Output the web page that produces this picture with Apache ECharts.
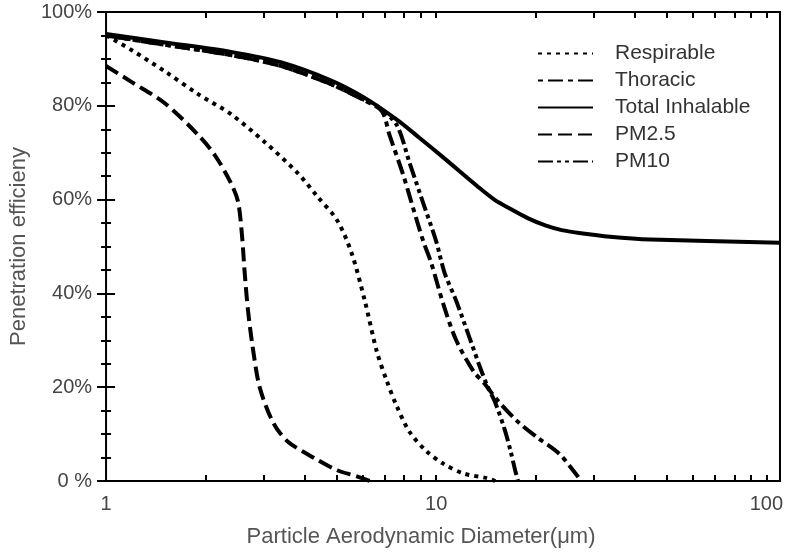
<!DOCTYPE html>
<html>
<head>
<meta charset="utf-8">
<script src="https://cdn.jsdelivr.net/npm/echarts@6/dist/echarts.min.js"></script>
<style>
  html, body { margin: 0; padding: 0; background: #fff; }
  #chart { width: 786px; height: 554px; }
</style>
</head>
<body>
<div id="chart"></div>
<script>
// values (diameter in µm, penetration in %)
const respirableX = [1, 1.2, 1.51, 1.9, 2.39, 3.02, 3.8, 4.36, 5.01, 5.55, 6.08, 6.61, 7.08, 7.58, 8.3, 9.33, 10.5, 12.1, 14.3, 15.1];
const respirableY = [95.0, 91.8, 87.3, 82.5, 78.2, 72.3, 65.7, 60.7, 55.6, 48.5, 38.4, 27.6, 21.4, 16.1, 10.5, 6.4, 3.7, 1.6, 0.6, 0];

const thoracicX = [1, 1.51, 2.39, 3.38, 4.77, 6.04, 6.84, 7.22, 7.96, 8.53, 9.14, 9.66, 10.5, 11.5, 13.0, 14.0, 15.3, 17.7, 20.4, 23.6, 27.5];
const thoracicY = [95.0, 93.0, 90.8, 88.5, 84.7, 81.2, 78.9, 73.8, 65.1, 58.0, 51.1, 46.5, 37.8, 30.0, 23.3, 20.8, 17.3, 12.6, 9.1, 5.8, 0];

const totalX = [1, 1.51, 2.39, 3.38, 4.77, 6.04, 7.58, 8.89, 10.5, 13.3, 15.0, 16.8, 19.0, 21.4, 24.0, 27.1, 33.6, 44.7, 110];
const totalY = [95.3, 93.5, 91.5, 89.3, 85.5, 81.8, 77.1, 73.2, 69.0, 62.9, 60.0, 58.0, 56.0, 54.5, 53.5, 52.9, 52.1, 51.5, 50.8];

const pm25X = [1, 1.2, 1.51, 1.9, 2.14, 2.39, 2.51, 2.58, 2.63, 2.69, 2.78, 2.92, 3.2, 3.54, 4.27, 5.01, 5.75, 6.29];
const pm25Y = [88.5, 85.0, 80.5, 73.8, 69.4, 63.5, 59.6, 52.5, 44.4, 36.5, 28.6, 20.0, 12.6, 8.5, 4.9, 2.3, 1.0, 0];

const pm10X = [1, 1.51, 2.39, 3.38, 4.77, 6.04, 6.61, 7.58, 8.3, 9.14, 10.0, 10.6, 11.5, 12.7, 13.6, 14.3, 15.1, 16.1, 16.8, 17.4, 17.7];
const pm10Y = [95.0, 93.0, 90.8, 88.5, 84.7, 81.3, 80.0, 76.0, 67.9, 59.2, 51.1, 44.4, 38.4, 30.0, 24.1, 20.2, 16.7, 11.1, 6.4, 1.9, 0];

// x tick marks (log positions 2..9, 10, 20..90, 100)
const xTickValues = [2, 3, 4, 5, 6, 7, 8, 9, 10, 20, 30, 40, 50, 60, 70, 80, 90, 100];

const font = 'Liberation Sans, Arial, sans-serif';
const xMax = 110;

function pairs(xs, ys) {
  return xs.map((x, i) => [x, ys[i]]);
}

function lineSeries(name, xs, ys, dash) {
  return {
    name: name,
    type: 'line',
    xAxisIndex: 0,
    yAxisIndex: 0,
    data: pairs(xs, ys),
    showSymbol: false,
    symbol: 'none',
    smooth: 0.3,
    lineStyle: { color: '#000', width: 4, type: dash, cap: 'butt', join: 'round' },
    itemStyle: { color: '#000' },
    emphasis: { disabled: true },
  };
}

// hidden linear axes in log10 space, only to draw the inner ticks
function tickAxis(position) {
  return {
    type: 'value',
    position: position,
    min: 0,
    max: Math.log10(xMax),
    axisLine: { show: false },
    axisLabel: { show: false },
    splitLine: { show: false },
    axisTick: {
      show: true,
      inside: true,
      length: 6,
      customValues: xTickValues.map((v) => Math.log10(v)),
      lineStyle: { color: '#000', width: 2 },
    },
  };
}

function yAxisDef(position, labels) {
  return {
    type: 'value',
    position: position,
    min: 0,
    max: 100,
    interval: 20,
    axisLine: { show: false },
    splitLine: { show: false },
    axisTick: { show: true, inside: true, length: 9, lineStyle: { color: '#000', width: 2 } },
    minorTick: { show: true, splitNumber: 4, length: 5, lineStyle: { color: '#000', width: 2 } },
    axisLabel: {
      show: labels,
      margin: 14,
      color: '#444',
      fontFamily: font,
      fontSize: 20,
      formatter: (v) => (v === 0 ? '0 %' : v + '%'),
    },
  };
}

const chart = echarts.init(document.getElementById('chart'), null, { renderer: 'canvas' });

chart.setOption({
  backgroundColor: '#fff',
  animation: false,
  grid: {
    left: 106,
    right: 3,
    top: 12,
    bottom: 73,
    show: true,
    borderColor: '#000',
    borderWidth: 2,
    backgroundColor: 'transparent',
  },
  legend: {
    orient: 'vertical',
    left: 532,
    top: 38,
    itemWidth: 55,
    itemHeight: 14,
    itemGap: 6,
    data: ['Respirable', 'Thoracic', 'Total Inhalable', 'PM2.5', 'PM10'],
    itemStyle: { opacity: 0 },
    textStyle: {
      color: '#333',
      fontFamily: font,
      fontSize: 21,
      lineHeight: 21,
      padding: [0, 0, 0, 17],
    },
    selectedMode: false,
  },
  xAxis: [
    {
      type: 'log',
      logBase: 10,
      min: 1,
      max: xMax,
      position: 'bottom',
      axisLine: { show: false },
      axisTick: { show: false },
      splitLine: { show: false },
      axisLabel: {
        showMaxLabel: false,
        margin: 13,
        color: '#444',
        fontFamily: font,
        fontSize: 20,
      },
      name: 'Particle Aerodynamic Diameter(μm)',
      nameLocation: 'middle',
      nameGap: 45,
      nameTextStyle: {
        color: '#555',
        fontFamily: font,
        fontSize: 22,
        padding: [0, 44, 0, 0],
      },
    },
    tickAxis('bottom'),
    tickAxis('top'),
  ],
  yAxis: [
    Object.assign(yAxisDef('left', true), {
      name: 'Penetration efficieny',
      nameLocation: 'middle',
      nameGap: 74,
      nameTextStyle: { color: '#555', fontFamily: font, fontSize: 22 },
    }),
    yAxisDef('right', false),
  ],
  series: [
    lineSeries('Respirable', respirableX, respirableY, [4, 5]),
    lineSeries('Thoracic', thoracicX, thoracicY, [5, 5, 15, 5]),
    lineSeries('Total Inhalable', totalX, totalY, 'solid'),
    lineSeries('PM2.5', pm25X, pm25Y, [14, 6]),
    lineSeries('PM10', pm10X, pm10Y, [15, 4, 4, 4, 4, 4]),
  ],
});
</script>
</body>
</html>
